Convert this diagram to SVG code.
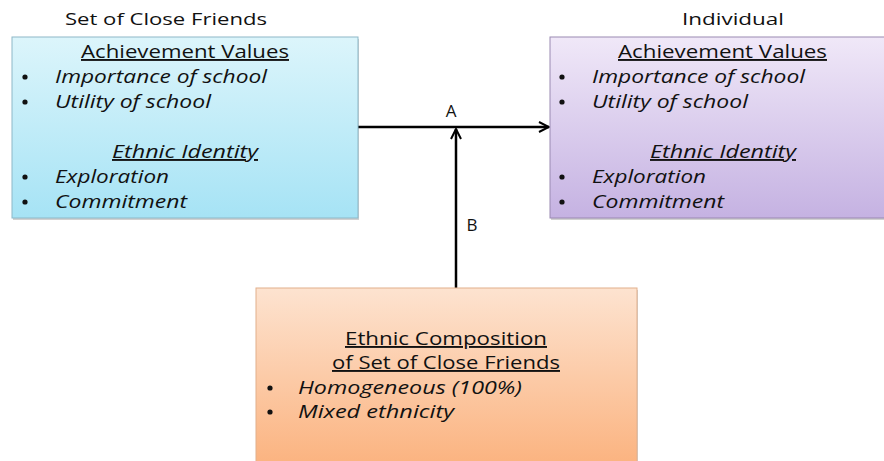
<svg xmlns="http://www.w3.org/2000/svg" width="884" height="461" viewBox="0 0 884 461">
  <defs>
    <linearGradient id="gBlue" x1="0" y1="0" x2="0" y2="1">
      <stop offset="0" stop-color="#dcf5fb"/>
      <stop offset="1" stop-color="#a6e3f5"/>
    </linearGradient>
    <linearGradient id="gPurple" x1="0" y1="0" x2="0" y2="1">
      <stop offset="0" stop-color="#f0e8f8"/>
      <stop offset="1" stop-color="#c5b2e2"/>
    </linearGradient>
    <linearGradient id="gOrange" x1="0" y1="0" x2="0" y2="1">
      <stop offset="0" stop-color="#fde3d0"/>
      <stop offset="1" stop-color="#fbb27e"/>
    </linearGradient>
    <marker id="arrow" viewBox="0 0 12 12" refX="11" refY="6" markerWidth="12" markerHeight="12" markerUnits="userSpaceOnUse" orient="auto">
      <path d="M1,1 L11,6 L1,11" fill="none" stroke="#000" stroke-width="2"/>
    </marker>
  </defs>
  <style>
    text { font-family: "Open Sans", "Liberation Sans", sans-serif; fill: #111; }
    .title { font-size: 17px; }
    .head { font-size: 19px; text-decoration: underline; }
    .item { font-size: 19px; font-style: italic; }
    .bul { fill: #111; }
    .lbl { font-size: 17px; }
    .shadow { fill: #000; opacity: 0.18; }
  </style>

  <g id="connectors">
    <line x1="358" y1="127" x2="549" y2="127" stroke="#000" stroke-width="2.5" marker-end="url(#arrow)"/>
    <line x1="456" y1="288" x2="456" y2="129" stroke="#000" stroke-width="2.5" marker-end="url(#arrow)"/>
    <text class="lbl" x="451" y="117" text-anchor="middle">A</text>
    <text class="lbl" x="472" y="231" text-anchor="middle">B</text>
  </g>

  <g id="friends">
    <text class="title" x="65" y="25" textLength="202" lengthAdjust="spacingAndGlyphs">Set of Close Friends</text>
    <rect class="shadow" x="13" y="39" width="346" height="181"/>
    <rect x="12" y="37" width="346" height="181" fill="url(#gBlue)" stroke="#8db8c8" stroke-width="1"/>
    <text class="head" x="81" y="58" textLength="208" lengthAdjust="spacingAndGlyphs">Achievement Values</text>
    <circle class="bul" cx="25" cy="77" r="2.6"/>
    <text class="item" x="55" y="83" textLength="212" lengthAdjust="spacingAndGlyphs">Importance of school</text>
    <circle class="bul" cx="25" cy="102" r="2.6"/>
    <text class="item" x="55" y="108" textLength="156" lengthAdjust="spacingAndGlyphs">Utility of school</text>
    <text class="head" x="112" y="158" textLength="146" lengthAdjust="spacingAndGlyphs" font-style="italic">Ethnic Identity</text>
    <circle class="bul" cx="25" cy="177" r="2.6"/>
    <text class="item" x="55" y="183" textLength="114" lengthAdjust="spacingAndGlyphs">Exploration</text>
    <circle class="bul" cx="25" cy="202" r="2.6"/>
    <text class="item" x="55" y="208" textLength="132" lengthAdjust="spacingAndGlyphs">Commitment</text>
  </g>

  <g id="individual">
    <text class="title" x="682" y="25" textLength="102" lengthAdjust="spacingAndGlyphs">Individual</text>
    <rect class="shadow" x="551" y="39" width="340" height="181"/>
    <rect x="550" y="37" width="340" height="181" fill="url(#gPurple)" stroke="#9a89b2" stroke-width="1"/>
    <text class="head" x="618" y="58" textLength="209" lengthAdjust="spacingAndGlyphs">Achievement Values</text>
    <circle class="bul" cx="562" cy="77" r="2.6"/>
    <text class="item" x="592" y="83" textLength="213" lengthAdjust="spacingAndGlyphs">Importance of school</text>
    <circle class="bul" cx="562" cy="102" r="2.6"/>
    <text class="item" x="592" y="108" textLength="156" lengthAdjust="spacingAndGlyphs">Utility of school</text>
    <text class="head" x="650" y="158" textLength="146" lengthAdjust="spacingAndGlyphs" font-style="italic">Ethnic Identity</text>
    <circle class="bul" cx="562" cy="177" r="2.6"/>
    <text class="item" x="592" y="183" textLength="114" lengthAdjust="spacingAndGlyphs">Exploration</text>
    <circle class="bul" cx="562" cy="202" r="2.6"/>
    <text class="item" x="592" y="208" textLength="132" lengthAdjust="spacingAndGlyphs">Commitment</text>
  </g>

  <g id="composition">
    <rect class="shadow" x="257" y="290" width="381" height="180"/>
    <rect x="256" y="288" width="381" height="180" fill="url(#gOrange)" stroke="#e2b08c" stroke-width="1"/>
    <text class="head" x="345" y="345" textLength="202" lengthAdjust="spacingAndGlyphs">Ethnic Composition</text>
    <text class="head" x="332" y="369" textLength="228" lengthAdjust="spacingAndGlyphs">of Set of Close Friends</text>
    <circle class="bul" cx="270" cy="388" r="2.6"/>
    <text class="item" x="298" y="394" textLength="224" lengthAdjust="spacingAndGlyphs">Homogeneous  (100%)</text>
    <circle class="bul" cx="270" cy="412" r="2.6"/>
    <text class="item" x="298" y="418" textLength="156" lengthAdjust="spacingAndGlyphs">Mixed ethnicity</text>
  </g>
</svg>
